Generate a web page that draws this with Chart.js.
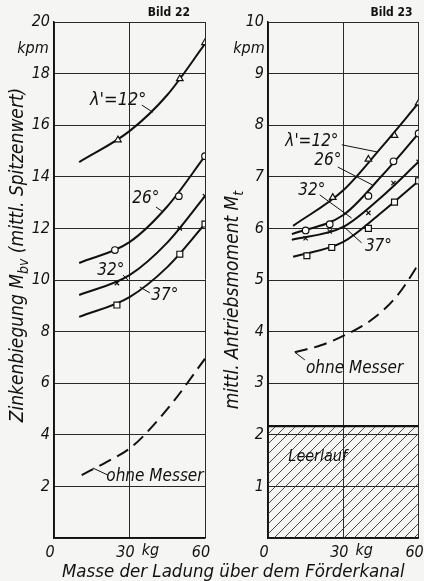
<!DOCTYPE html>
<html>
<head>
<meta charset="utf-8">
<script src="https://cdn.jsdelivr.net/npm/chart.js@4"></script>
<style>
  body { margin: 0; background: #f5f5f3; }
  #wrap { position: relative; width: 424px; height: 581px; }
  canvas { position: absolute; top: 0; }
  #left { left: 0; }
  #right { left: 212px; }
  #xtitle {
    position: absolute; left: 62px; top: 560px; line-height: 24px; white-space: nowrap;
    font: italic 18.5px 'DejaVu Sans Condensed', 'Liberation Sans Narrow', 'DejaVu Sans', sans-serif;
    color: #111;
  }
</style>
</head>
<body>
<div id="wrap">
  <canvas id="left" width="212" height="581"></canvas>
  <canvas id="right" width="212" height="581"></canvas>
  <div id="xtitle">Masse der Ladung über dem Förderkanal</div>
</div>
<script>
// x ticks, kg
const massTicks = [0, 30, 60];

// Bild 22 - Zinkenbiegung (kpm): drawn curves and measured points
const b22_12_kg = [10, 30, 45, 60];
const b22_12_m = [14.57, 15.77, 17.17, 19.15];
const b22_12_ptKg = [25.4, 50, 60];
const b22_12_ptM = [15.43, 17.8, 19.2];

const b22_26_kg = [10, 30, 45, 60];
const b22_26_m = [10.66, 11.47, 12.85, 14.8];
const b22_26_ptKg = [24.2, 49.6, 60];
const b22_26_ptM = [11.16, 13.25, 14.8];

const b22_32_kg = [10, 30, 45, 60];
const b22_32_m = [9.42, 10.19, 11.45, 13.25];
const b22_32_ptKg = [25, 50, 60];
const b22_32_ptM = [9.88, 12.0, 13.25];

const b22_37_kg = [10, 30, 45, 60];
const b22_37_m = [8.57, 9.34, 10.5, 12.17];
const b22_37_ptKg = [25, 50, 60];
const b22_37_ptM = [9.03, 11.0, 12.17];

const b22_ohne_kg = [11, 21, 29.8, 35.5, 47.3, 60];
const b22_ohne_m = [2.44, 2.95, 3.45, 3.95, 5.27, 6.95];

// Bild 23 - Antriebsmoment (kpm)
const b23_12_kg = [10, 30, 45, 60];
const b23_12_m = [6.05, 6.74, 7.56, 8.43];
const b23_12_ptKg = [25.8, 40, 50.4, 60];
const b23_12_ptM = [6.6, 7.34, 7.8, 8.43];

const b23_26_kg = [9.5, 30, 45, 60];
const b23_26_m = [5.89, 6.26, 7.0, 7.84];
const b23_26_ptKg = [15, 24.6, 40, 50, 60];
const b23_26_ptM = [5.96, 6.08, 6.63, 7.3, 7.84];

const b23_32_kg = [9.5, 30, 45, 60];
const b23_32_m = [5.78, 6.03, 6.6, 7.29];
const b23_32_ptKg = [15, 24.6, 40, 50, 60];
const b23_32_ptM = [5.81, 5.94, 6.3, 6.88, 7.29];

const b23_37_kg = [10, 30, 45, 60];
const b23_37_m = [5.45, 5.74, 6.3, 6.92];
const b23_37_ptKg = [15.5, 25.4, 40, 50.4, 60];
const b23_37_ptM = [5.47, 5.63, 6.0, 6.51, 6.92];

const b23_ohne_kg = [10.7, 21.4, 30.6, 41, 51, 58.4, 60];
const b23_ohne_m = [3.6, 3.74, 3.93, 4.22, 4.67, 5.19, 5.33];

const leerlaufKg = [0, 60];
const leerlaufM = [2.17, 2.17];

const FAM = "'DejaVu Sans Condensed', 'Liberation Sans Narrow', 'DejaVu Sans', sans-serif";
const INK = '#111';

const pts = (xs, ys) => xs.map((x, i) => ({ x: x, y: ys[i] }));

function curve(xs, ys, dash) {
  return {
    data: pts(xs, ys), borderColor: INK, borderWidth: 2, pointRadius: 0,
    cubicInterpolationMode: 'monotone', fill: false, borderDash: dash || [], order: 1
  };
}
function marks(xs, ys, style, r) {
  return {
    data: pts(xs, ys), showLine: false, pointStyle: style, pointRadius: r,
    pointBackgroundColor: '#fff', pointBorderColor: INK, pointBorderWidth: 1.2, order: 0
  };
}

function hatch() {
  const c = document.createElement('canvas');
  c.width = 10; c.height = 10;
  const g = c.getContext('2d');
  g.strokeStyle = '#333';
  g.lineWidth = 0.9;
  g.beginPath();
  g.moveTo(0, 10); g.lineTo(10, 0);
  g.moveTo(-5, 5); g.lineTo(5, -5);
  g.moveTo(5, 15); g.lineTo(15, 5);
  g.stroke();
  return g.createPattern(c, 'repeat');
}

function drawRotated(ctx, cx, cy, parts) {
  ctx.save();
  ctx.translate(cx, cy);
  ctx.rotate(-Math.PI / 2);
  ctx.textBaseline = 'middle';
  ctx.textAlign = 'left';
  ctx.fillStyle = INK;
  let total = 0;
  parts.forEach(p => {
    ctx.font = p.sub ? `italic 14px ${FAM}` : `italic 19px ${FAM}`;
    p.w = ctx.measureText(p.t).width;
    total += p.w;
  });
  let x = -total / 2;
  parts.forEach(p => {
    ctx.font = p.sub ? `italic 14px ${FAM}` : `italic 19px ${FAM}`;
    ctx.fillText(p.t, x, p.sub ? 6 : 0);
    x += p.w;
  });
  ctx.restore();
}

function notesPlugin(cfg) {
  return {
    id: 'notes',
    afterDraw(chart) {
      const ctx = chart.ctx, xs = chart.scales.x, ys = chart.scales.y, a = chart.chartArea;
      ctx.save();
      ctx.fillStyle = INK;
      ctx.strokeStyle = INK;
      ctx.lineWidth = 1;
      cfg.notes.forEach(n => {
        if (n.lead) {
          ctx.beginPath();
          ctx.moveTo(xs.getPixelForValue(n.lead[0]), ys.getPixelForValue(n.lead[1]));
          ctx.lineTo(xs.getPixelForValue(n.lead[2]), ys.getPixelForValue(n.lead[3]));
          ctx.stroke();
        }
        ctx.font = `italic ${n.size || 17}px ${FAM}`;
        ctx.textAlign = 'center';
        ctx.textBaseline = 'middle';
        ctx.fillText(n.t, xs.getPixelForValue(n.kg), ys.getPixelForValue(n.m));
      });
      // units
      ctx.font = `italic 16px ${FAM}`;
      ctx.textAlign = 'center';
      ctx.textBaseline = 'middle';
      ctx.fillText('kpm', a.left + cfg.kpmDx, ys.getPixelForValue(cfg.kpmM));
      ctx.textBaseline = 'top';
      ctx.fillText('kg', xs.getPixelForValue(38.3), a.bottom + 5);
      // figure number
      ctx.font = `bold 12px ${FAM}`;
      ctx.textAlign = 'right';
      ctx.textBaseline = 'middle';
      ctx.fillText(cfg.bild, a.right + cfg.bildDx, 13);
      ctx.restore();
      drawRotated(ctx, cfg.titleX, cfg.titleY, cfg.title);
    }
  };
}

function makeChart(id, cfg) {
  const tickFont = { family: FAM, size: 16, style: 'italic' };
  return new Chart(document.getElementById(id), {
    type: 'line',
    data: { datasets: cfg.datasets },
    options: {
      responsive: false,
      animation: false,
      devicePixelRatio: 1,
      layout: { padding: { top: 22, right: cfg.padRight, left: 0, bottom: 0 } },
      plugins: { legend: { display: false }, tooltip: { enabled: false } },
      scales: {
        x: {
          type: 'linear', min: 0, max: 60,
          afterBuildTicks: s => { s.ticks = massTicks.map(v => ({ value: v })); },
          afterFit: s => { s.height = 43; s.paddingLeft = 0; s.paddingRight = 0; },
          grid: { color: '#2a2a2a', lineWidth: 1, drawTicks: false },
          border: { display: true, color: INK, width: 1.5 },
          ticks: { font: tickFont, color: INK, padding: 5, labelOffset: -4, maxRotation: 0, autoSkip: false }
        },
        y: {
          type: 'linear', min: 0, max: cfg.yMax,
          afterFit: s => { s.width = cfg.yWidth; s.paddingTop = 0; s.paddingBottom = 0; },
          grid: { color: '#2a2a2a', lineWidth: 1, drawTicks: false },
          border: { display: true, color: INK, width: 1.5 },
          ticks: { stepSize: cfg.yStep, font: tickFont, color: INK, padding: 4, callback: v => v === 0 ? '' : v }
        }
      }
    },
    plugins: [notesPlugin(cfg)]
  });
}

makeChart('left', {
  yMax: 20, yStep: 2, yWidth: 54, padRight: 7,
  kpmDx: -21, kpmM: 18.95, bild: 'Bild 22', bildDx: -15,
  titleX: 18, titleY: 255,
  title: [{ t: 'Zinkenbiegung M' }, { t: 'bv', sub: true }, { t: ' (mittl. Spitzenwert)' }],
  notes: [
    { t: "λ'=12°", kg: 25.5, m: 16.98, size: 18, lead: [34.9, 16.78, 39.3, 16.5] },
    { t: '26°', kg: 36.5, m: 13.14, lead: [40.5, 12.83, 43.3, 12.64] },
    { t: '32°', kg: 22.6, m: 10.35, lead: [27.4, 10.19, 29.4, 10.0] },
    { t: '37°', kg: 44, m: 9.38, lead: [38.1, 9.5, 34.1, 9.73] },
    { t: 'ohne Messer', kg: 40.1, m: 2.4, lead: [21.4, 2.44, 15.5, 2.71] }
  ],
  datasets: [
    curve(b22_12_kg, b22_12_m), marks(b22_12_ptKg, b22_12_ptM, 'triangle', 3.8),
    curve(b22_26_kg, b22_26_m), marks(b22_26_ptKg, b22_26_ptM, 'circle', 3.3),
    curve(b22_32_kg, b22_32_m), marks(b22_32_ptKg, b22_32_ptM, 'crossRot', 3),
    curve(b22_37_kg, b22_37_m), marks(b22_37_ptKg, b22_37_ptM, 'rect', 4.2),
    curve(b22_ohne_kg, b22_ohne_m, [13, 7])
  ]
});

makeChart('right', {
  yMax: 10, yStep: 1, yWidth: 56, padRight: 5,
  kpmDx: -19, kpmM: 9.48, bild: 'Bild 23', bildDx: -6,
  titleX: 21, titleY: 300,
  title: [{ t: 'mittl. Antriebsmoment M' }, { t: 't', sub: true }],
  notes: [
    { t: "λ'=12°", kg: 17.5, m: 7.69, lead: [29.4, 7.62, 43.7, 7.48] },
    { t: '26°', kg: 23.8, m: 7.31, lead: [27.8, 7.19, 41.7, 6.84] },
    { t: '32°', kg: 17.5, m: 6.74, lead: [20.6, 6.65, 33.3, 6.2] },
    { t: '37°', kg: 44, m: 5.64, lead: [37.3, 5.72, 29.8, 6.05] },
    { t: 'ohne Messer', kg: 34.5, m: 3.29, lead: [10.7, 3.6, 14.7, 3.45] },
    { t: 'Leerlauf', kg: 19.8, m: 1.57, size: 16 }
  ],
  datasets: [
    {
      data: pts(leerlaufKg, leerlaufM), borderColor: INK, borderWidth: 2.2, pointRadius: 0,
      fill: 'origin', backgroundColor: hatch(), order: 2
    },
    curve(b23_12_kg, b23_12_m), marks(b23_12_ptKg, b23_12_ptM, 'triangle', 3.8),
    curve(b23_26_kg, b23_26_m), marks(b23_26_ptKg, b23_26_ptM, 'circle', 3.3),
    curve(b23_32_kg, b23_32_m), marks(b23_32_ptKg, b23_32_ptM, 'crossRot', 3),
    curve(b23_37_kg, b23_37_m), marks(b23_37_ptKg, b23_37_ptM, 'rect', 4.2),
    curve(b23_ohne_kg, b23_ohne_m, [13, 7])
  ]
});
</script>
</body>
</html>
